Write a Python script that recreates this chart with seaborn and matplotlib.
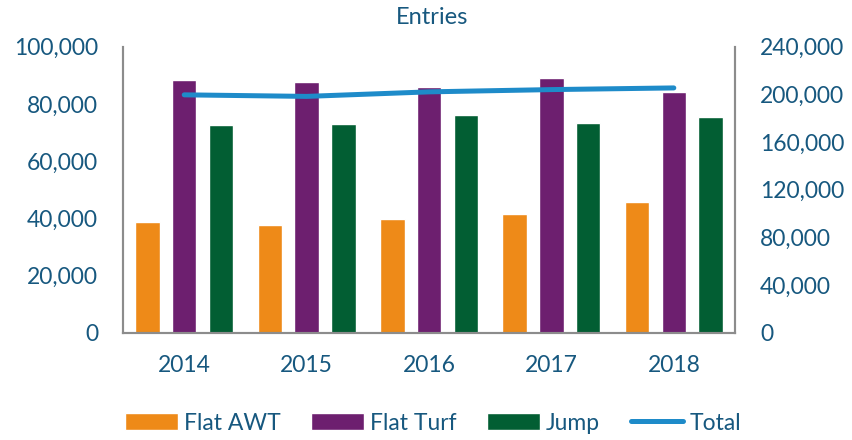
import pandas as pd
import seaborn as sns
import matplotlib.pyplot as plt
from matplotlib.ticker import FuncFormatter, MultipleLocator

# Data
years = ['2014', '2015', '2016', '2017', '2018']
flat_awt = [38600, 37600, 39800, 41400, 45900]
flat_turf = [88500, 87700, 86000, 89200, 84100]
jump = [72500, 73000, 76300, 73400, 75400]
total = [199600, 198300, 202100, 204000, 205400]

series_names = ['Flat AWT', 'Flat Turf', 'Jump']
bar_colors = ['#EE8A18', '#6D1F6F', '#025E33']
line_color = '#1E8BC9'
text_color = '#17587F'
spine_color = '#8C8C8C'

bars = pd.DataFrame({
    'year': years * 3,
    'series': [s for s in series_names for _ in years],
    'value': flat_awt + flat_turf + jump,
})
tot = pd.DataFrame({'year': years, 'total': total})

sns.set_style('white')
plt.rcParams['font.family'] = ['Lato', 'DejaVu Sans']

fig = plt.figure(figsize=(8.52, 4.4), dpi=100)
ax = fig.add_axes([0.1444, 0.2432, 0.7183, 0.6508])

sns.barplot(data=bars, x='year', y='value', hue='series', order=years,
            hue_order=series_names, palette=bar_colors, width=0.9, gap=1/3,
            ax=ax, saturation=1)

ax2 = ax.twinx()
sns.pointplot(data=tot, x='year', y='total', order=years, color=line_color,
              markers='', linewidth=3.6, ax=ax2, errorbar=None)
for ln in ax2.lines:
    ln.set_solid_capstyle('round')

ax.set_ylim(0, 100000)
ax2.set_ylim(0, 240000)
ax.yaxis.set_major_locator(MultipleLocator(20000))
ax2.yaxis.set_major_locator(MultipleLocator(40000))
fmt = FuncFormatter(lambda v, p: f'{int(v):,}')
ax.yaxis.set_major_formatter(fmt)
ax2.yaxis.set_major_formatter(fmt)
ax.set_xlim(-0.5, 4.5)
ax2.set_xlim(-0.5, 4.5)

for a in (ax, ax2):
    a.set_xlabel('')
    a.set_ylabel('')
    a.tick_params(axis='both', length=0, labelsize=16.5, labelcolor=text_color)
    a.spines['top'].set_visible(False)
    for s in ('left', 'right', 'bottom'):
        a.spines[s].set_color(spine_color)
        a.spines[s].set_linewidth(1.5)
ax.tick_params(axis='y', pad=18)
ax2.tick_params(axis='y', pad=18)
ax.tick_params(axis='x', pad=16)

h1, l1 = ax.get_legend_handles_labels()
if ax.get_legend() is not None:
    ax.get_legend().remove()
line_handle = plt.Line2D([], [], color=line_color, linewidth=3.6, solid_capstyle='round')
fig.legend(h1 + [line_handle], l1 + ['Total'], loc='center', ncol=4,
           bbox_to_anchor=(433 / 852, 1 - 423 / 440), frameon=False,
           fontsize=16.5, labelcolor=text_color, handlelength=2.3,
           handleheight=0.7, handletextpad=0.25, columnspacing=1.35)

fig.text(432 / 852, 1 - 18 / 440, 'Entries', ha='center', va='center',
         fontsize=17, color=text_color)

plt.savefig('out.png', dpi=100)
